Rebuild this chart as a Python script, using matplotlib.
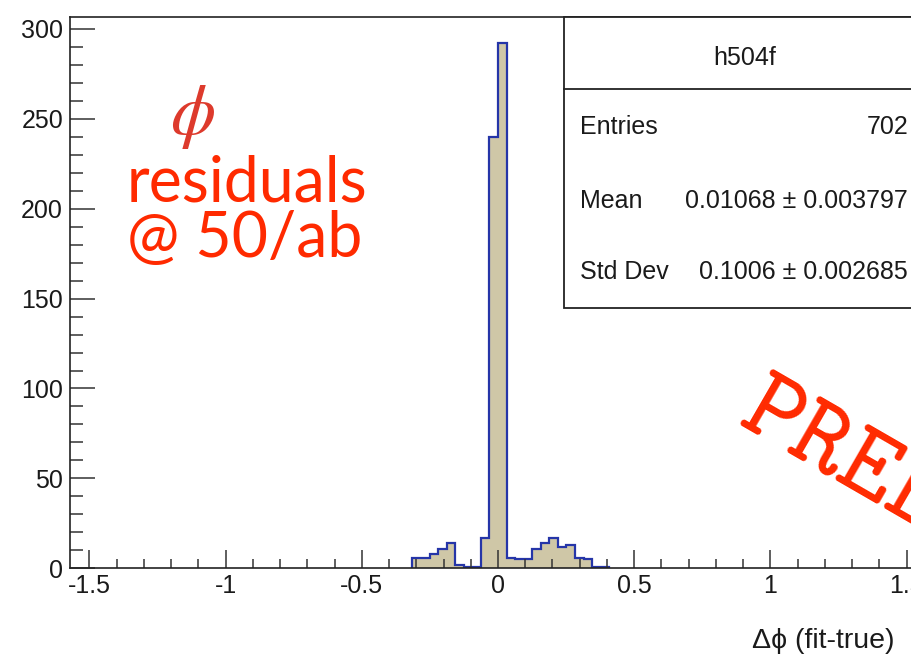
import numpy as np
import matplotlib.pyplot as plt
from matplotlib.patches import Rectangle
from matplotlib.ticker import MultipleLocator, FuncFormatter

# histogram h504f : 100 bins over [-pi/2, pi/2], only bins 40..62 are filled
n_bins = 100
x_lo, x_hi = -np.pi / 2, np.pi / 2
first_bin = 40
counts = [6, 6, 8, 11, 14, 2, 1, 1, 17, 240, 292,
          6, 5, 5, 11, 14, 17, 12, 13, 6, 5, 1, 1]

stat_names = ['Entries', 'Mean', 'Std Dev']
stat_values = ['702', '0.01068 \u00b1 0.003797', '0.1006 \u00b1 0.002685']
hist_name = 'h504f'

W, H = 911, 656
fig = plt.figure(figsize=(W / 100, H / 100), dpi=100)
plt.rcParams['font.family'] = ['Liberation Sans', 'DejaVu Sans']


def fx(px):
    return px / W


def fy(py):
    return 1 - py / H


# axes frame in image pixels (right edge falls outside the picture)
left, right, top, bottom = 70, 926, 17, 568.3
ax = fig.add_axes([fx(left), fy(bottom), fx(right - left), (bottom - top) / H])

edges = np.linspace(x_lo, x_hi, n_bins + 1)
e = edges[first_bin:first_bin + len(counts) + 1]
ax.stairs(counts, e, baseline=0, fill=True, color='#cfc7a7', lw=0)
ax.stairs(counts, e, baseline=0, color='#2535a8', lw=1.6)

ax.set_xlim(x_lo, x_hi)
ax.set_ylim(0, max(counts) * 1.05)

ax.xaxis.set_major_locator(MultipleLocator(0.5))
ax.xaxis.set_minor_locator(MultipleLocator(0.1))
ax.yaxis.set_major_locator(MultipleLocator(50))
ax.yaxis.set_minor_locator(MultipleLocator(10))
ax.xaxis.set_major_formatter(FuncFormatter(lambda v, p: '%g' % v))
ax.tick_params(axis='x', which='major', direction='in', length=13, width=1.1,
               color='#333333', labelsize=18, pad=4, labelcolor='#1a1a1a')
ax.tick_params(axis='x', which='minor', direction='in', length=6.5, width=1.1,
               color='#333333')
ax.tick_params(axis='y', which='major', direction='in', length=18, width=1.1,
               color='#333333', labelsize=18, pad=5, labelcolor='#1a1a1a')
ax.tick_params(axis='y', which='minor', direction='in', length=9.5, width=1.1,
               color='#333333')
for s in ax.spines.values():
    s.set_linewidth(1.2)
    s.set_color('#222222')

# x title, only its start is inside the picture
fig.text(fx(752), fy(641), '\u0394\u03d5 (fit-true)', ha='left', va='center',
         fontsize=20.5, color='#1a1a1a')

# stats box
bx0, bx1, by0, by1, bdiv = 564, 926, 17, 308, 89
fig.add_artist(Rectangle((fx(bx0), fy(by1)), fx(bx1 - bx0), (by1 - by0) / H,
                         transform=fig.transFigure, facecolor='white',
                         edgecolor='#222222', lw=1.3, zorder=5))
fig.add_artist(plt.Line2D([fx(bx0), fx(bx1)], [fy(bdiv), fy(bdiv)],
                          transform=fig.transFigure, color='#222222', lw=1.3,
                          zorder=6))
fig.text(fx(745), fy(58), hist_name, ha='center', va='center', fontsize=18,
         color='#1a1a1a', zorder=7)
for name, val, yy in zip(stat_names, stat_values, [127, 201, 272]):
    fig.text(fx(580), fy(yy), name, ha='left', va='center', fontsize=18,
             color='#1a1a1a', zorder=7)
    fig.text(fx(908), fy(yy), val, ha='right', va='center', fontsize=18,
             color='#1a1a1a', zorder=7)

# red annotations
red = '#ff2a00'
fig.text(fx(192), fy(117), r'$\phi$', ha='center', va='center', fontsize=52,
         color='#dd3a2c', math_fontfamily='stix')
fig.text(fx(127), fy(202), 'residuals', ha='left', va='baseline',
         fontsize=45, color=red, family='Lato')
fig.text(fx(127), fy(257), '@ 50/ab', ha='left', va='baseline',
         fontsize=45, color=red, family='Lato')
fig.text(fx(736), fy(424), 'PRELIMINARY', ha='left', va='baseline',
         rotation=-30, rotation_mode='anchor', fontsize=76, color=red,
         family='cmtt10')

fig.savefig('out.png', dpi=100)
